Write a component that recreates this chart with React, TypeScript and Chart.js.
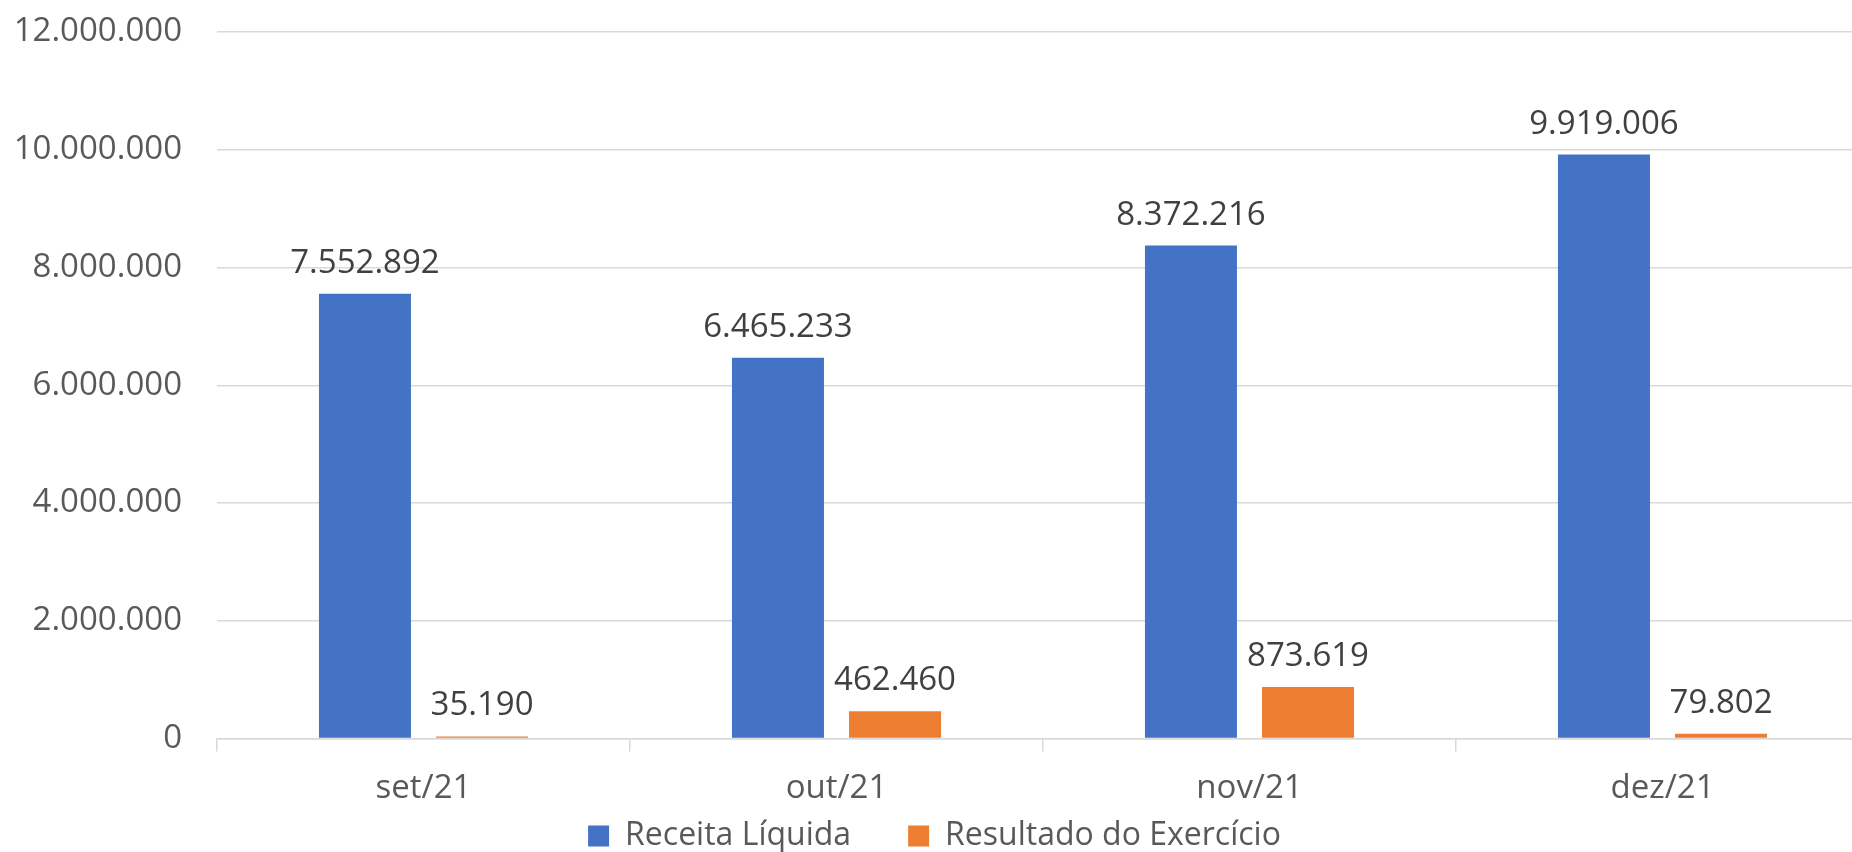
import React, { useEffect, useRef } from "react";
import { Chart, registerables } from "chart.js";

Chart.register(...registerables);

const categories = ["set/21", "out/21", "nov/21", "dez/21"];
const receitaLiquida = [7552892, 6465233, 8372216, 9919006];
const resultadoExercicio = [35190, 462460, 873619, 79802];
const seriesNames = ["Receita Líquida", "Resultado do Exercício"];
const yMax = 12000000;
const yStep = 2000000;

const FONT = "'Open Sans', sans-serif";
const W = 1876;
const H = 862;

function fmt(v: number): string {
  const s = Math.round(Math.abs(v)).toString();
  const parts: string[] = [];
  for (let i = s.length; i > 0; i -= 3) {
    parts.unshift(s.substring(Math.max(0, i - 3), i));
  }
  return (v < 0 ? "-" : "") + parts.join(".");
}

const dataLabels = {
  id: "dataLabels",
  afterDatasetsDraw(chart: any) {
    const ctx = chart.ctx;
    ctx.save();
    ctx.font = `33px ${FONT}`;
    ctx.fillStyle = "#404040";
    ctx.textAlign = "center";
    ctx.textBaseline = "alphabetic";
    chart.data.datasets.forEach((ds: any, di: number) => {
      const meta = chart.getDatasetMeta(di);
      meta.data.forEach((bar: any, i: number) => {
        ctx.fillText(fmt(ds.data[i]), bar.x, bar.y - 21);
      });
    });
    ctx.restore();
  },
};

export default function App() {
  const ref = useRef<HTMLCanvasElement>(null);
  useEffect(() => {
    document.body.style.margin = "0";
    document.body.style.overflow = "hidden";
    const chart = new Chart(ref.current as HTMLCanvasElement, {
      type: "bar",
      data: {
        labels: categories,
        datasets: [
          {
            label: seriesNames[0],
            data: receitaLiquida,
            backgroundColor: "#4472C4",
            categoryPercentage: 0.567,
            barPercentage: 0.786,
          },
          {
            label: seriesNames[1],
            data: resultadoExercicio,
            backgroundColor: "#ED7D31",
            categoryPercentage: 0.567,
            barPercentage: 0.786,
          },
        ],
      },
      options: {
        animation: false,
        responsive: false,
        devicePixelRatio: 1,
        layout: { padding: { top: 32, left: 0, right: 7, bottom: 0 } },
        plugins: {
          legend: {
            position: "bottom",
            labels: {
              boxWidth: 21,
              boxHeight: 21,
              padding: 57,
              color: "#595959",
              font: { family: FONT, size: 32, lineHeight: 1.2 },
            },
          },
          tooltip: { enabled: false },
        },
        scales: {
          x: {
            grid: {
              display: true,
              drawOnChartArea: false,
              drawTicks: true,
              tickLength: 13,
              color: "#d9d9d9",
              lineWidth: 1.5,
            },
            border: { display: true, color: "#d9d9d9", width: 1.5 },
            ticks: {
              color: "#595959",
              mirror: true,
              padding: -70,
              font: { family: FONT, size: 33, lineHeight: 1.2 },
            },
            afterFit(scale: any) {
              scale.height = 24.5;
            },
          },
          y: {
            min: 0,
            max: yMax,
            grid: {
              color: "#d9d9d9",
              lineWidth: 1.5,
              drawTicks: true,
              tickLength: 35,
              tickColor: "rgba(0,0,0,0)",
            },
            border: { display: false },
            ticks: {
              stepSize: yStep,
              color: "#595959",
              padding: 0,
              font: { family: FONT, size: 33 },
              callback: (v: any) => fmt(Number(v)),
            },
            afterFit(scale: any) {
              scale.width = 217;
            },
          },
        },
      },
      plugins: [dataLabels],
    });
    return () => chart.destroy();
  }, []);
  return (
    <div style={{ position: "fixed", left: 0, top: 0, width: W, height: H }}>
      <canvas ref={ref} width={W} height={H} style={{ width: W, height: H, display: "block" }} />
    </div>
  );
}
